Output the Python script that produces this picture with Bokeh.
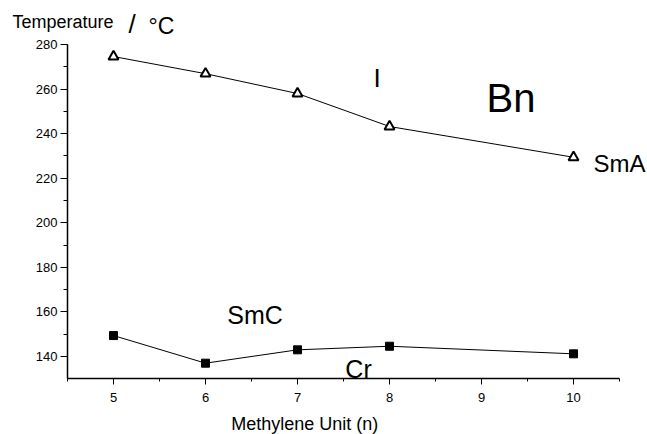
from bokeh.plotting import figure
from bokeh.models import Range1d, SingleIntervalTicker, Label
from bokeh.embed import file_html
from bokeh.resources import INLINE

# ---- data ----
n_smA = [5, 6, 7, 8, 10]
t_smA = [274.6, 266.9, 258.0, 243.2, 229.4]   # I -> SmA transition (triangles)
n_smC = [5, 6, 7, 8, 10]
t_smC = [149.4, 137.0, 143.0, 144.6, 141.2]   # SmC -> Cr transition (squares)
x_label = "Methylene Unit (n)"
y_label = "Temperature"

FONT = "Liberation Sans"
X0, X1 = 4.5, 10.5       # drawn x-axis extent
Y0, Y1 = 130.26, 280     # drawn y-axis extent

p = figure(width=647, height=434, output_backend="svg", toolbar_location=None,
           x_range=Range1d(3.7717, 10.804), y_range=Range1d(105.0, 299.74),
           min_border=0, background_fill_color="white",
           border_fill_color="white", outline_line_color=None)
p.grid.visible = False

# axes (drawn at fixed data positions inside the frame)
xa = p.xaxis[0]
xa.fixed_location = Y0
xa.bounds = (X0, X1)
xa.ticker = SingleIntervalTicker(interval=1, num_minor_ticks=2)
xa.axis_line_width = 1.5
xa.axis_line_color = "black"
xa.major_tick_out = 6
xa.major_tick_in = 0
xa.minor_tick_out = 3
xa.minor_tick_in = 0
xa.major_tick_line_color = "black"
xa.minor_tick_line_color = "black"
xa.major_label_text_font = FONT
xa.major_label_text_font_size = "13px"
xa.major_label_text_color = "black"
xa.major_label_standoff = 9

ya = p.yaxis[0]
ya.fixed_location = X0
ya.bounds = (Y0, Y1)
ya.ticker = SingleIntervalTicker(interval=20, num_minor_ticks=2)
ya.axis_line_width = 1.5
ya.axis_line_color = "black"
ya.major_tick_out = 7
ya.major_tick_in = 0
ya.minor_tick_out = 4
ya.minor_tick_in = 0
ya.major_tick_line_color = "black"
ya.minor_tick_line_color = "black"
ya.major_label_text_font = FONT
ya.major_label_text_font_size = "13px"
ya.major_label_text_color = "black"
ya.major_label_standoff = 3

# series
p.line(n_smA, t_smA, line_color="black", line_width=1)
p.scatter(n_smA, t_smA, marker="triangle", size=10, fill_color="white",
          line_color="black", line_width=2)
p.line(n_smC, t_smC, line_color="black", line_width=1)
p.scatter(n_smC, t_smC, marker="square", size=8, fill_color="black",
          line_color="black")

def lab(x, y, text, size, align="left"):
    p.add_layout(Label(x=x, y=y, text=text, text_font=FONT,
                       text_font_size=size, text_color="black",
                       text_align=align, text_baseline="middle"))

lab(3.902, 290.0, y_label, "18px")
lab(5.163, 289.4, "/", "26px")
lab(5.38, 288.5, "°C", "23px")
lab(7.078, 109.9, x_label, "18px", "center")
lab(7.866, 264.9, "I", "26px", "center")
lab(9.32, 255.8, "Bn", "40px", "center")
lab(10.217, 226.6, "SmA", "24px")
lab(6.538, 158.8, "SmC", "25px", "center")
lab(7.663, 134.3, "Cr", "25px", "center")

open("out.html", "w").write(file_html(p, INLINE))
